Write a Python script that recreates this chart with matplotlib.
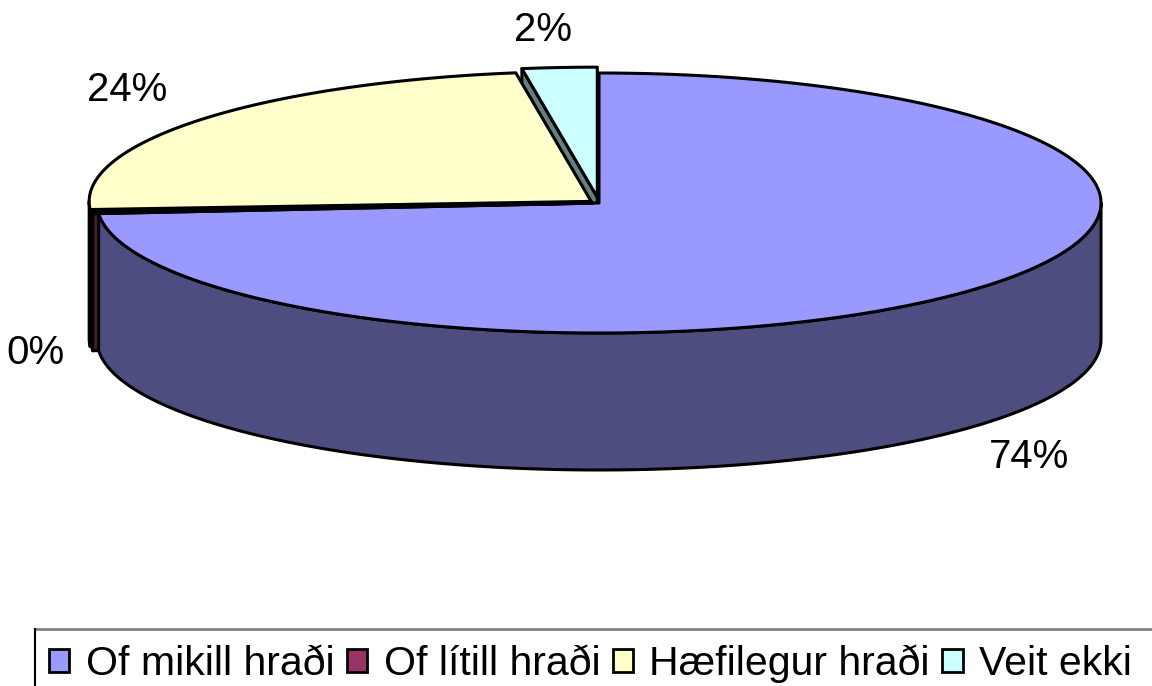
import numpy as np
import matplotlib
matplotlib.use("Agg")
import matplotlib.pyplot as plt
from matplotlib.patches import Polygon, Patch

plt.rcParams['font.family'] = ['Liberation Sans', 'DejaVu Sans']

# data (shares estimated from slice geometry; labels as printed)
categories = ["Of mikill hraði", "Of lítill hraði", "Hæfilegur hraði", "Veit ekki"]
values = [73.7, 0.3, 23.6, 2.4]
labels = ["74%", "0%", "24%", "2%"]
top_colors = ["#9999FF", "#993366", "#FFFFCC", "#CCFFFF"]
explode = [0.0, 0.012, 0.02, 0.045]

# layout (pixel coords)
W, H = 1152, 686
cx, cy = 599, 203
a, b = 502, 130
depth = 137
label_xy = [(1029, 457), (35, 353), (127, 90), (543, 30)]


def shade(c, f=0.5):
    r, g, bb = matplotlib.colors.to_rgb(c)
    return (r * f, g * f, bb * f)


def pt(theta, ox, oy, dz=0):
    t = np.radians(theta)
    return (cx + ox + a * np.cos(t), cy + oy - b * np.sin(t) + dz)


fig = plt.figure(figsize=(W / 100, H / 100), dpi=100)
ax = fig.add_axes([0, 0, 1, 1])
ax.set_xlim(0, W)
ax.set_ylim(H, 0)
ax.axis("off")

total = float(sum(values))
# slices go clockwise from 12 o'clock; store as ccw intervals [t1, t2]
slices = []
start = 90.0
for v, e, col in zip(values, explode, top_colors):
    span = 360.0 * v / total
    t2 = start
    t1 = start - span
    start = t1
    if t1 < 0:
        t1 += 360
        t2 += 360
    mid = np.radians((t1 + t2) / 2)
    ox = e * a * np.cos(mid)
    oy = -e * b * np.sin(mid)
    slices.append((t1, t2, ox, oy, col))

lw = 2.2
radial = []
walls = []
tops = []
for t1, t2, ox, oy, col in slices:
    c0 = (cx + ox, cy + oy)
    c0b = (cx + ox, cy + oy + depth)
    # flat cut faces
    for t, vis in ((t1, np.cos(np.radians(t1)) > 1e-6), (t2, np.cos(np.radians(t2)) < -1e-6)):
        if vis:
            p, pb = pt(t, ox, oy), pt(t, ox, oy, depth)
            radial.append((oy, [c0, p, pb, c0b], shade(col)))
    # outer wall on the front half
    for lo, hi in ((180, 360), (540, 720)):
        s, e2 = max(t1, lo), min(t2, hi)
        if e2 > s:
            th = np.linspace(s, e2, 120)
            upper = [pt(t, ox, oy) for t in th]
            lower = [pt(t, ox, oy, depth) for t in th[::-1]]
            walls.append((upper + lower, shade(col)))
    th = np.linspace(t1, t2, max(int((t2 - t1) * 2), 2))
    tops.append(([c0] + [pt(t, ox, oy) for t in th], col))

for _, poly, col in sorted(radial, key=lambda r: r[0]):
    ax.add_patch(Polygon(poly, closed=True, fc=col, ec="black", lw=lw, joinstyle="round"))
for poly, col in walls:
    ax.add_patch(Polygon(poly, closed=True, fc=col, ec="black", lw=lw, joinstyle="round"))
for poly, col in tops:
    ax.add_patch(Polygon(poly, closed=True, fc=col, ec="black", lw=lw, joinstyle="round"))

for (x, y), txt in zip(label_xy, labels):
    ax.text(x, y, txt, fontsize=29, ha="center", va="center", color="black")

# legend frame (runs off the bottom/right edge)
ax.plot([35, W + 5], [629, 629], color="#808080", lw=2, solid_capstyle="butt")
ax.plot([35, 35], [628, H + 5], color="black", lw=1.5, solid_capstyle="butt")

handles = [Patch(fc=c, ec="black", lw=2) for c in top_colors]
fig.legend(handles, categories, loc="center left", bbox_to_anchor=(49 / W, 1 - 664 / H),
           ncol=4, frameon=False, fontsize=29.5, handlelength=0.5, handleheight=0.5,
           handletextpad=0.4, columnspacing=0.3, borderpad=0, borderaxespad=0)

fig.savefig("out.png", dpi=100)
